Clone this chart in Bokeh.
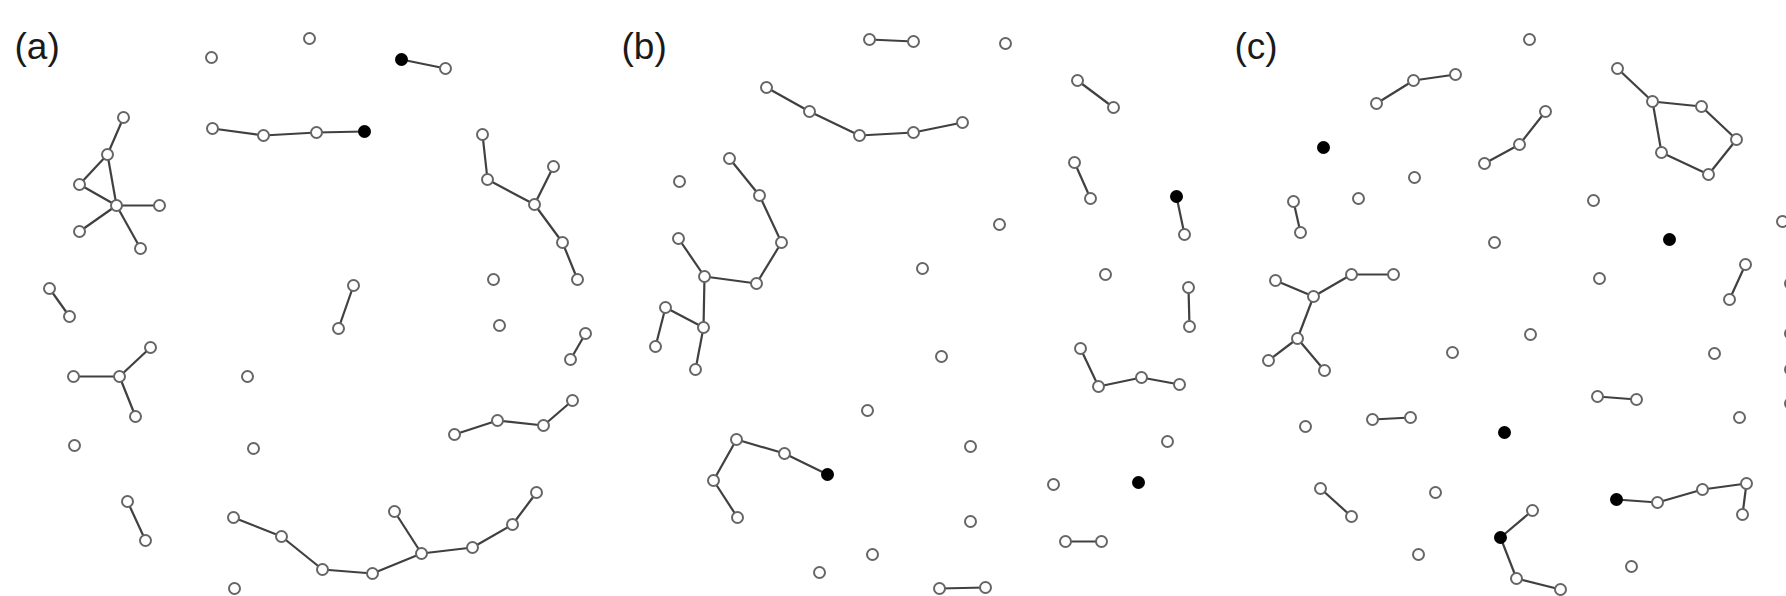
from bokeh.plotting import figure
from bokeh.models import Range1d
from bokeh.core.properties import value
from bokeh.embed import file_html
from bokeh.resources import INLINE

# ---------------- data (node positions in image pixel space) ----------------
a_x = [211, 212, 263, 316, 364, 401, 445, 123, 107, 79, 116, 159, 79, 140, 49, 69,
       73, 119, 150, 135, 74, 247, 253, 127, 145, 234, 233, 281, 322, 372, 421, 394,
       472, 512, 536, 309, 482, 487, 534, 553, 562, 577, 353, 338, 493, 499, 585, 570,
       454, 497, 543, 572]
a_y = [57, 128, 135, 132, 131, 59, 68, 117, 154, 184, 205, 205, 231, 248, 288, 316,
       376, 376, 347, 416, 445, 376, 448, 501, 540, 588, 517, 536, 569, 573, 553, 511,
       547, 524, 492, 38, 134, 179, 204, 166, 242, 279, 285, 328, 279, 325, 333, 359,
       434, 420, 425, 400]
a_black = [4, 5]
a_edges = [(1, 2), (2, 3), (3, 4), (5, 6), (7, 8), (8, 9), (8, 10), (9, 10), (10, 11),
           (10, 12), (10, 13), (14, 15), (16, 17), (17, 18), (17, 19), (23, 24), (26, 27),
           (27, 28), (28, 29), (29, 30), (30, 31), (30, 32), (32, 33), (33, 34), (36, 37),
           (37, 38), (38, 39), (38, 40), (40, 41), (42, 43), (46, 47), (48, 49), (49, 50),
           (50, 51)]

b_x = [869, 913, 1005, 766, 809, 859, 913, 962, 729, 759, 781, 756, 704, 678, 703, 665,
       655, 695, 679, 867, 736, 713, 737, 784, 827, 872, 819, 1077, 1113, 1074, 1090,
       1176, 1184, 999, 922, 1105, 1188, 1189, 941, 1080, 1098, 1141, 1179, 970, 1167,
       1053, 1138, 970, 1065, 1101, 939, 985]
b_y = [39, 41, 43, 87, 111, 135, 132, 122, 158, 195, 242, 283, 276, 238, 327, 307, 346,
       369, 181, 410, 439, 480, 517, 453, 474, 554, 572, 80, 107, 162, 198, 196, 234, 224,
       268, 274, 287, 326, 356, 348, 386, 377, 384, 446, 441, 484, 482, 521, 541, 541,
       588, 587]
b_black = [24, 31, 46]
b_edges = [(0, 1), (3, 4), (4, 5), (5, 6), (6, 7), (8, 9), (9, 10), (10, 11), (11, 12),
           (12, 13), (12, 14), (14, 15), (15, 16), (14, 17), (20, 21), (21, 22), (20, 23),
           (23, 24), (27, 28), (29, 30), (31, 32), (36, 37), (39, 40), (40, 41), (41, 42),
           (48, 49), (50, 51)]

c_x = [1376, 1413, 1455, 1323, 1414, 1358, 1293, 1300, 1494, 1484, 1519, 1545, 1275, 1313,
       1351, 1393, 1297, 1268, 1324, 1452, 1305, 1372, 1410, 1504, 1320, 1351, 1435, 1418,
       1500, 1532, 1516, 1560, 1529, 1617, 1652, 1701, 1736, 1708, 1661, 1593, 1782, 1669,
       1745, 1729, 1599, 1530, 1714, 1597, 1636, 1739, 1616, 1657, 1702, 1746, 1742, 1631,
       1790, 1790, 1790, 1790]
c_y = [103, 80, 74, 147, 177, 198, 201, 232, 242, 163, 144, 111, 280, 296, 274, 274, 338,
       360, 370, 352, 426, 419, 417, 432, 488, 516, 492, 554, 537, 510, 578, 589, 39, 68,
       101, 106, 139, 174, 152, 200, 221, 239, 264, 299, 278, 334, 353, 396, 399, 417, 499,
       502, 489, 483, 514, 566, 283, 333, 369, 403]
c_black = [3, 23, 28, 41, 50]
c_edges = [(0, 1), (1, 2), (6, 7), (9, 10), (10, 11), (12, 13), (13, 14), (14, 15),
           (13, 16), (16, 17), (16, 18), (21, 22), (24, 25), (28, 29), (28, 30), (30, 31),
           (33, 34), (34, 35), (35, 36), (36, 37), (37, 38), (38, 34), (42, 43), (47, 48),
           (50, 51), (51, 52), (52, 53), (53, 54)]

panel_labels = ["(a)", "(b)", "(c)"]

# ---------------- figure ----------------
W, H = 1786, 596
p = figure(width=W, height=H, output_backend="svg", toolbar_location=None,
           x_range=Range1d(0, W), y_range=Range1d(H, 0),
           x_axis_type=None, y_axis_type=None, min_border=0)
p.grid.visible = False
p.outline_line_color = None
p.background_fill_color = "white"
p.border_fill_color = "white"

panels = [(a_x, a_y, a_black, a_edges), (b_x, b_y, b_black, b_edges),
          (c_x, c_y, c_black, c_edges)]

for xs, ys, blacks, edges in panels:
    x0 = [xs[i] for i, j in edges]
    y0 = [ys[i] for i, j in edges]
    x1 = [xs[j] for i, j in edges]
    y1 = [ys[j] for i, j in edges]
    p.segment(x0, y0, x1, y1, line_color="#404040", line_width=2.2)
    fills = ["black" if k in blacks else "white" for k in range(len(xs))]
    lines = ["black" if k in blacks else "#666666" for k in range(len(xs))]
    p.scatter(xs, ys, size=11, fill_color=fills, line_color=lines, line_width=2.0)

label_x = [min(a_x) - 35, min(b_x) - 34, min(c_x) - 34]
p.text(x=label_x, y=[46, 46, 46], text=panel_labels,
       text_font=value("Liberation Sans"), text_font_size="37px",
       text_color="#1a1a1a", text_baseline="alphabetic", text_align="left")

open("out.html", "w").write(file_html(p, INLINE))
